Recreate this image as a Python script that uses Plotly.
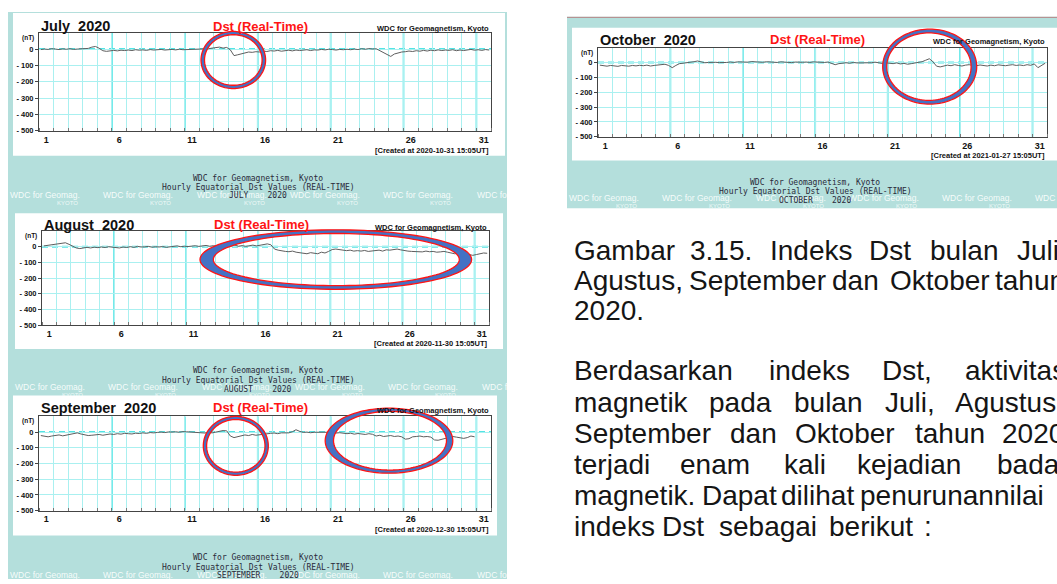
import math
import plotly.graph_objects as go

W, H = 1057, 584

# ---------------- chart data ----------------
month_titles = ["July\u00a0\u00a02020", "August\u00a0\u00a02020", "September\u00a0\u00a02020", "October\u00a0\u00a02020"]
month_caps = ["JULY", "AUGUST", "SEPTEMBER", "OCTOBER"]
created_at = ["2020-10-31 15:05UT", "2020-11-30 15:05UT", "2020-12-30 15:05UT", "2021-01-27 15:05UT"]
day_ticks = [1, 6, 11, 16, 21, 26, 31]
dst_ticks = [0, -100, -200, -300, -400, -500]
dst_tick_text = ["0", "- 100", "- 200", "- 300", "- 400", "- 500"]
samples_per_day = 4  # values read every 6 hours

dst_july = [
    -3, 0, -2, 2,   0, -3, 1, -1,   2, -2, 0, 1,   0, 4, 12, 16,
    5, -10, -14, -12,   -8, -11, -7, -9,   -6, -9, -4, -7,   -5, -8, -3, -6,
    -4, -2, -6, -3,   -2, -5, -1, -4,   -3, -1, -4, -2,   0, 3, 2, 6,
    8, 12, 6, 10,   -5, -40, -35, -28,   -22, -18, -20, -16,   -18, -12, -15, -10,
    -12, -8, -13, -9,   -7, -11, -6, -9,   -8, -4, -9, -5,   -6, -2, -5, -1,
    -3, -6, -2, -4,   -1, -4, 0, -3,   2, -1, 3, 0,   2, -10, -25, -35,
    -45, -30, -22, -18,   -16, -12, -15, -10,   -13, -8, -12, -7,   -10, -5, -9, -6,
    -8, -4, -10, -6,   -9, -5, -2, -7,   -4, -8, -3, -6,
]
dst_aug = [
    5, 8, 12, 15,   18, 22, 25, 15,   2, -8, -12, -6,   -4, -8, -3, -6,
    -2, -5, 0, -3,   -4, -8, -2, -5,   0, -4, 2, -2,   -1, 2, -3, 0,
    -2, 1, -4, 0,   2, 5, 0, 3,   1, 4, 6, 2,   5, 8, 3, 6,
    4, 8, 2, 6,   5, 10, 3, 7,   2, 6, 10, 5,   8, 12, 18, 12,
    -15, -22, -28, -30,   -32, -28, -35, -38,   -40, -45, -38, -42,   -45, -35, -40, -30,
    -18, -15, -20, -22,   -25, -22, -28, -25,   -28, -24, -30, -27,   -25, -22, -28, -20,
    -22, -18, -15, -20,   -25, -28, -30, -32,   -30, -33, -28, -32,   -30, -35, -33, -30,
    -35, -40, -45, -42,   -48, -45, -52, -55,   -50, -45, -40, -42,
]
dst_sep = [
    -22, -28, -30, -25,   -22, -18, -24, -20,   -15, -8, -5, -12,   -18, -22, -20, -17,
    -15, -20, -14, -12,   -15, -10, -13, -8,   -10, -12, -7, -9,   -5, -8, -3, -5,
    -2, 0, -3, 1,   0, 2, -1, 3,   2, 0, -2, -4,   -3, -6, -2, -5,
    0, 5, 10, 8,   -25, -35, -28, -20,   -18, -22, -15, -20,   -16, -12, -10, -8,
    -6, -10, -5, -3,   -5, 2, 15, 5,   -2, 0, -4, -1,   0, -2, 2, -1,
    -3, -6, -4, -8,   -10, -7, -13, -9,   -12, -15, -10, -14,   -25, -20, -28, -24,
    -22, -28, -25, -30,   -45, -42, -30, -28,   -25, -30, -28, -32,   -50, -52, -45, -38,
    -35, -28, -32, -38,   -40, -35, -25, -30,
]
dst_oct = [
    -18, -22, -25, -20,   -22, -26, -20, -24,   -25, -20, -23, -19,   -22, -18, -24, -20,
    -18, -15, -12, -20,   -35, -20, -8, -5,   -3, 0, 5, 10,   2, -2, 0, 3,
    1, -1, 2, 0,   3, 0, 4, 2,   5, 2, 6, 3,   4, 1, 5, 2,
    3, 0, 4, 1,   2, -1, 3, 0,   1, 3, 0, 4,   2, 5, 0, 3,
    -5, -15, -8, -4,   -2, -5, 0, -3,   -4, -1, -6, -2,   2, -3, -6, -2,
    -5, -8, -3, -10,   -6, -12, -8, -5,   -3, 5, 15, 25,   5, -25, -30, -22,
    -18, -22, -15, -20,   -24, -18, -15, -20,   -22, -17, -20, -24,   -18, -22, -16, -20,
    -22, -18, -15, -20,   -17, -21, -15, -19,   -10, -35, -20, -5,
]
series = [dst_july, dst_aug, dst_sep, dst_oct]

# ---------------- page layout (pixels) ----------------
FONT = "Liberation Sans, Arial, sans-serif"
MONO = "DejaVu Sans Mono, monospace"
TEAL = "#b4dfdc"
GRID = "#aaf0f0"
MAJOR = "#38e2e2"
RED = "#ff1414"
BLUE = "#4472c4"

panels = [
    dict(box=(13, 13, 505, 157), plot=(39, 33, 491, 132), title_y=26.5, dst_x=260, wdc_y=28.5,
         created_y=152, mono_x=258, mono_y=(180, 189.5, 197.5), wm_y=197, wm_x0=8, wm_x1=507),
    dict(box=(15, 215, 503, 352), plot=(42, 233, 489, 328), title_y=226.5, dst_x=261, wdc_y=229,
         created_y=346, mono_x=258, mono_y=(373.5, 384, 392.5), wm_y=390, wm_x0=13, wm_x1=507),
    dict(box=(13, 399, 497, 540), plot=(39, 420, 491, 515), title_y=411.5, dst_x=260, wdc_y=414,
         created_y=534, mono_x=258, mono_y=(562.7, 572.3, 580.7), wm_y=580, wm_x0=8, wm_x1=507),
    dict(box=(572, 28, 1057, 162), plot=(598, 48, 1047, 138), title_y=40, dst_x=817, wdc_y=42,
         created_y=156.7, mono_x=815, mono_y=(184, 193.3, 202), wm_y=200, wm_x0=567, wm_x1=1057),
]


def fx(x):
    return x / W


def fy(y):
    return 1 - y / H


fig = go.Figure()
shapes = []
annotations = []

# backgrounds
shapes.append(dict(type="rect", xref="paper", yref="paper", x0=fx(8), x1=fx(507), y0=fy(584), y1=fy(12),
                   fillcolor=TEAL, line=dict(width=0), layer="below"))
shapes.append(dict(type="rect", xref="paper", yref="paper", x0=fx(567), x1=fx(1057), y0=fy(210), y1=fy(17),
                   fillcolor=TEAL, line=dict(width=0), layer="below"))
shapes.append(dict(type="line", xref="paper", yref="paper", x0=fx(567), x1=fx(1057), y0=fy(17.5), y1=fy(17.5),
                   line=dict(color="#b58585", width=1), layer="below"))

for i, (p, vals) in enumerate(zip(panels, series)):
    n = i + 1
    xid = "x" if n == 1 else f"x{n}"
    yid = "y" if n == 1 else f"y{n}"
    xs = [1 + (k + 0.5) / samples_per_day for k in range(len(vals))]
    fig.add_trace(go.Scatter(x=xs, y=vals, mode="lines", line=dict(color="#5e5e5e", width=1),
                             xaxis=xid, yaxis=yid, showlegend=False, hoverinfo="skip"))
    bx0, by0, bx1, by1 = p["box"]
    shapes.append(dict(type="rect", xref="paper", yref="paper", x0=fx(bx0), x1=fx(bx1), y0=fy(by1), y1=fy(by0),
                       fillcolor="white", line=dict(width=0), layer="below"))
    x0, y0, x1, y1 = p["plot"]
    xa = dict(domain=[fx(x0), fx(x1)], range=[1, 32], tickmode="array",
              tickvals=[d + 0.5 for d in day_ticks], ticktext=[str(d) for d in day_ticks],
              ticks="", showgrid=False, zeroline=False, showline=True, mirror=True,
              linecolor="#444", linewidth=1, anchor=yid, fixedrange=True,
              tickfont=dict(family=FONT, size=9, color="#111", weight="bold"),
              minor=dict(tickmode="linear", tick0=1, dtick=1, showgrid=True, gridcolor=GRID,
                         gridwidth=1, ticks="inside", ticklen=3, tickcolor="#777"))
    ya = dict(domain=[fy(y1), fy(y0)], range=[-500, 100], tickmode="array", tickvals=dst_ticks,
              ticktext=dst_tick_text, ticks="outside", ticklen=3, tickcolor="#444",
              showgrid=True, gridcolor=GRID, gridwidth=1, zeroline=False, showline=True,
              mirror=True, linecolor="#444", linewidth=1, anchor=xid, fixedrange=True,
              tickfont=dict(family=FONT, size=7.5, color="#111", weight="bold"))
    fig.update_layout(**{("xaxis" if n == 1 else f"xaxis{n}"): xa,
                         ("yaxis" if n == 1 else f"yaxis{n}"): ya})
    # major day lines and dashed zero line
    for d in day_ticks[1:]:
        shapes.append(dict(type="line", xref=xid, yref=f"{yid} domain", x0=d, x1=d, y0=0, y1=1,
                           line=dict(color=MAJOR, width=1.6), layer="below"))
    shapes.append(dict(type="line", xref=xid, yref=yid, x0=1, x1=32, y0=0, y1=0,
                       line=dict(color="#52e4e4", width=2, dash="6px,4px"), layer="below"))

    # texts
    annotations += [
        dict(text="<b>" + month_titles[i] + "</b>", x=fx(x0), y=fy(p["title_y"]), xanchor="left",
             font=dict(family=FONT, size=14.5, color="#111")),
        dict(text="<b>Dst (Real-Time)</b>", x=fx(p["dst_x"]), y=fy(p["title_y"]), xanchor="center",
             font=dict(family=FONT, size=13, color=RED)),
        dict(text="<b>WDC for Geomagnetism, Kyoto</b>", x=fx(x1), y=fy(p["wdc_y"]), xanchor="right",
             font=dict(family=FONT, size=7.5, color="#111")),
        dict(text="<b>[Created at " + created_at[i] + "]</b>", x=fx(x1), y=fy(p["created_y"]),
             xanchor="right", font=dict(family=FONT, size=7.5, color="#111")),
        dict(text="<b>(nT)</b>", x=fx(x0 - 11), y=fy(y0 + 5), xanchor="center",
             font=dict(family=FONT, size=6.5, color="#111")),
    ]
    wx = p["wm_x0"]
    while wx < p["wm_x1"]:
        annotations.append(dict(text="WDC for Geomag.", x=fx(wx), y=fy(p["wm_y"]), xanchor="left",
                                font=dict(family=FONT, size=8.5, color="rgba(255,255,255,0.9)")))
        annotations.append(dict(text="KYOTO", x=fx(wx + 47), y=fy(p["wm_y"] + 8), xanchor="left",
                                font=dict(family=FONT, size=6, color="rgba(255,255,255,0.8)")))
        wx += 93.3
    mono_lines = ["WDC for Geomagnetism, Kyoto", "Hourly Equatorial Dst Values (REAL-TIME)",
                  month_caps[i] + "\u00a0\u00a0\u00a0\u00a02020"]
    for t, yy in zip(mono_lines, p["mono_y"]):
        annotations.append(dict(text=t, x=fx(p["mono_x"]), y=fy(yy), xanchor="center",
                                font=dict(family=MONO, size=8, color="#2a2a3a")))


# highlight rings drawn over the charts
def ring(cx, cy, rxo, ryo, rxi, ryi, dxi=0.0, n=120):
    outer, inner = [], []
    for k in range(n):
        t = 2 * math.pi * k / n
        outer.append((cx + rxo * math.cos(t), cy + ryo * math.sin(t)))
        inner.append((cx + dxi + rxi * math.cos(t), cy + ryi * math.sin(t)))

    def seg(pts):
        return "M" + " L".join(f"{fx(a):.5f},{fy(b):.5f}" for a, b in pts) + " Z"
    return seg(outer) + " " + seg(inner)


rings = [
    (233.3, 60.5, 32.3, 28.8, 28.8, 25.5, 0.0),
    (335.8, 261.8, 135.8, 30.0, 123.0, 26.3, 0.5),
    (235.8, 449.7, 32.5, 29.7, 29.2, 26.5, 0.0),
    (389.0, 444.5, 63.8, 32.8, 56.5, 29.6, 1.0),
    (929.7, 67.2, 47.0, 37.8, 42.2, 34.0, -0.8),
]
for r in rings:
    shapes.append(dict(type="path", xref="paper", yref="paper", path=ring(*r), fillcolor=BLUE,
                       fillrule="evenodd", line=dict(color=RED, width=1.3), layer="above"))

# caption text on the right (Indonesian), justified word by word
caption_lines = [
    (["Gambar", "3.15.", "Indeks", "Dst", "bulan", "Juli,"], [572, 688, 768, 867, 928, 1015]),
    (["Agustus,", "September", "dan", "Oktober", "tahun"], [572, 687, 830, 888, 993]),
    (["2020."], [572]),
    (["Berdasarkan", "indeks", "Dst,", "aktivitas"], [572, 767, 880, 963]),
    (["magnetik", "pada", "bulan", "Juli,", "Agustus,"], [572, 707, 792, 883, 953]),
    (["September", "dan", "Oktober", "tahun", "2020"], [572, 728, 793, 913, 1000]),
    (["terjadi", "enam", "kali", "kejadian", "badai"], [572, 678, 782, 855, 995]),
    (["magnetik.", "Dapat", "dilihat", "penurunannilai"], [572, 700, 779, 858]),
    (["indeks", "Dst", "sebagai", "berikut", ":"], [572, 660, 717, 827, 922]),
]
caption_baseline = [262, 292.5, 322.5, 384, 415.5, 447, 478.5, 510, 541]
CAP_SIZE = 28
for (words, xs), yb in zip(caption_lines, caption_baseline):
    for w, xx in zip(words, xs):
        annotations.append(dict(text=w, x=fx(xx), y=fy(yb - 0.35 * CAP_SIZE), xanchor="left",
                                font=dict(family=FONT, size=CAP_SIZE, color="#151515")))

for a in annotations:
    a.update(xref="paper", yref="paper", showarrow=False, yanchor="middle")

fig.update_layout(width=W, height=H, margin=dict(l=0, r=0, t=0, b=0, pad=0),
                  paper_bgcolor="white", plot_bgcolor="white", showlegend=False,
                  shapes=shapes, annotations=annotations)

fig.write_html("out.html", config={"displayModeBar": False},
               post_script="document.body.style.margin='0';")
